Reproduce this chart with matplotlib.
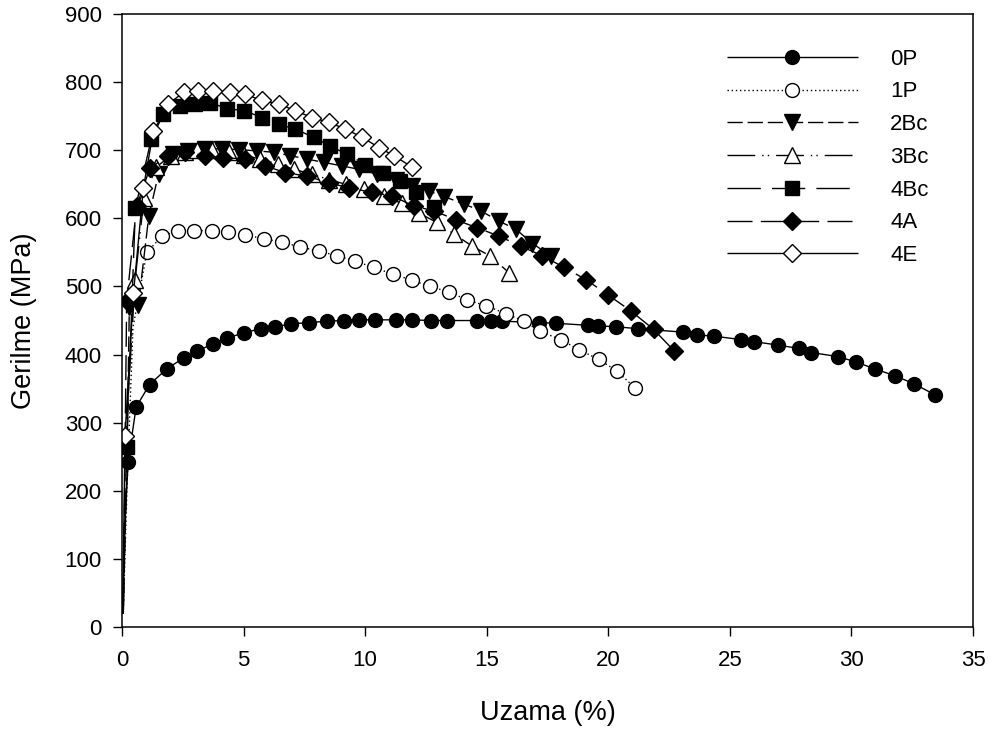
import matplotlib
matplotlib.use("Agg")
import matplotlib.pyplot as plt

plt.rcParams['font.family'] = ['Liberation Sans', 'DejaVu Sans']

# Tensile curves: strain (%) vs stress (MPa)
x_0P = [0.02, 0.12, 0.25, 0.58, 1.13, 1.84, 2.53, 3.08, 3.76, 4.31, 5.0, 5.71, 6.3, 6.95,
        7.68, 8.43, 9.12, 9.74, 10.42, 11.25, 11.94, 12.69, 13.38, 14.6, 15.19, 15.64,
        17.14, 17.84, 19.15, 19.56, 20.31, 21.2, 23.06, 23.64, 24.36, 25.46, 25.99, 26.97,
        27.84, 28.35, 29.45, 30.2, 30.96, 31.78, 32.58, 33.43]
y_0P = [20, 150, 243, 323, 356, 379, 395, 405, 416, 424, 432, 438, 441, 445,
        447, 449, 450, 451, 451, 451, 451, 450, 450, 450, 450, 449,
        447, 446, 443, 442, 441, 438, 433, 429, 427, 422, 419, 414,
        409, 403, 397, 389, 379, 369, 357, 341]

x_1P = [0.05, 0.2, 0.45, 1.02, 1.64, 2.32, 2.98, 3.69, 4.35, 5.07, 5.82, 6.58, 7.33, 8.09,
        8.85, 9.6, 10.35, 11.15, 11.94, 12.66, 13.45, 14.2, 14.96, 15.78, 16.54, 17.19,
        18.05, 18.8, 19.6, 20.35, 21.1]
y_1P = [20, 200, 440, 550, 574, 582, 582, 582, 580, 576, 570, 565, 558, 552,
        545, 537, 528, 518, 509, 500, 492, 480, 472, 460, 449, 434,
        422, 407, 393, 376, 351]

x_2Bc = [0.05, 0.2, 0.3, 0.67, 1.1, 1.5, 2.1, 2.73, 3.42, 4.1, 4.79, 5.55, 6.24, 6.92,
         7.61, 8.32, 9.05, 9.74, 10.5, 11.25, 11.94, 12.62, 13.24, 14.07, 14.75, 15.5,
         16.2, 16.88, 17.64]
y_2Bc = [20, 240, 470, 473, 603, 665, 694, 699, 702, 702, 701, 699, 697, 692,
         687, 682, 677, 672, 665, 657, 648, 640, 632, 621, 611, 596,
         584, 563, 545]

x_3Bc = [0.05, 0.15, 0.54, 0.9, 1.4, 2.0, 2.6, 3.08, 3.7, 4.4, 5.0, 5.69, 6.4, 7.06,
         7.8, 8.5, 9.2, 9.94, 10.77, 11.5, 12.2, 12.94, 13.65, 14.41, 15.13, 15.92]
y_3Bc = [20, 280, 510, 630, 675, 692, 698, 701, 700, 697, 693, 687, 680, 672,
         665, 657, 650, 643, 633, 622, 608, 594, 577, 559, 545, 520]

x_4Bc = [0.05, 0.19, 0.55, 1.2, 1.7, 2.39, 3.0, 3.63, 4.31, 5.03, 5.76, 6.44, 7.13,
         7.88, 8.57, 9.26, 10.01, 10.74, 11.45, 12.07, 12.83]
y_4Bc = [20, 265, 615, 716, 753, 765, 768, 770, 761, 758, 748, 738, 731,
         719, 706, 694, 679, 667, 655, 638, 617]

x_4A = [0.05, 0.19, 0.6, 1.15, 1.91, 2.6, 3.42, 4.17, 5.07, 5.89, 6.72, 7.61, 8.5, 9.32,
        10.29, 11.11, 12.0, 12.83, 13.72, 14.61, 15.5, 16.4, 17.29, 18.18, 19.08, 19.97,
        20.93, 21.86, 22.72]
y_4A = [20, 478, 618, 674, 692, 697, 692, 689, 687, 677, 667, 662, 652, 645,
        638, 633, 618, 611, 598, 586, 574, 559, 545, 528, 510, 488,
        464, 437, 405]

x_4E = [0.03, 0.12, 0.47, 0.88, 1.29, 1.91, 2.53, 3.14, 3.76, 4.45, 5.07, 5.76, 6.44,
        7.13, 7.81, 8.5, 9.19, 9.88, 10.56, 11.18, 11.94]
y_4E = [20, 280, 490, 645, 728, 768, 785, 787, 787, 785, 782, 773, 768,
        758, 748, 741, 731, 719, 704, 692, 675]

labels = ["0P", "1P", "2Bc", "3Bc", "4Bc", "4A", "4E"]
xs = [x_0P, x_1P, x_2Bc, x_3Bc, x_4Bc, x_4A, x_4E]
ys = [y_0P, y_1P, y_2Bc, y_3Bc, y_4Bc, y_4A, y_4E]

# style per series: marker, face colour, marker size, dash pattern, first marked point
styles = [
    ("o", "black", 10, (0, ()), 2),
    ("o", "white", 10, (0, (1.0, 2.0)), 3),
    ("v", "black", 11, (0, (11, 3.5)), 2),
    ("^", "white", 11, (0, (20, 5, 1, 3, 1, 5)), 2),
    ("s", "black", 10.5, (0, (24, 8)), 1),
    ("D", "black", 9, (0, (18, 6)), 1),
    ("D", "white", 9, (0, ()), 1),
]

fig = plt.figure(figsize=(9.97, 7.36), dpi=100)
ax = fig.add_axes([0.1224, 0.148, 0.976 - 0.1224, 0.981 - 0.148])

for xv, yv, lab, (mk, fc, ms, ls, start) in zip(xs, ys, labels, styles):
    ax.plot(xv, yv, color="black", lw=1.0, linestyle=ls, marker=mk,
            markerfacecolor=fc, markeredgecolor="black", markeredgewidth=1.0,
            markersize=ms, markevery=slice(start, None), label=lab)

ax.set_xlim(0, 35)
ax.set_ylim(0, 900)
ax.set_xticks(range(0, 36, 5))
ax.set_yticks(range(0, 901, 100))
ax.tick_params(direction="out", length=6.5, width=1.0, labelsize=16,
               top=False, right=False)
ax.tick_params(axis="x", pad=10)
ax.tick_params(axis="y", pad=8)
for sp in ax.spines.values():
    sp.set_linewidth(1.1)

ax.set_xlabel("Uzama (%)", fontsize=19.5, labelpad=21)
ax.set_ylabel("Gerilme (MPa)", fontsize=19.5, labelpad=20)

ax.legend(loc="upper left", bbox_to_anchor=(0.729, 0.934),
          bbox_transform=fig.transFigure, frameon=False,
          borderaxespad=0, borderpad=0, handlelength=5.9,
          handletextpad=1.45, labelspacing=0.53, fontsize=16)

fig.savefig("out.png", dpi=100)
